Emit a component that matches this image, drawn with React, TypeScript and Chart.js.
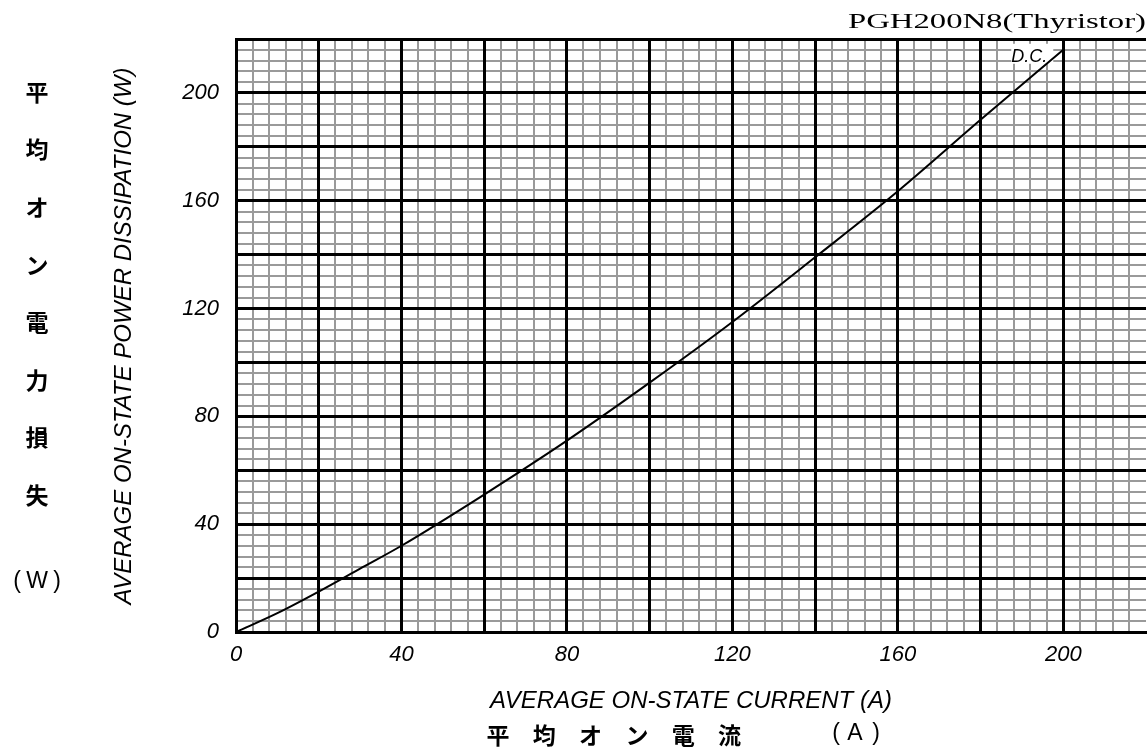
import React, { useEffect, useRef } from "react";
import { Chart, registerables } from "chart.js";

Chart.register(...registerables);

const currentA = [0, 10, 20, 30, 40, 60, 80, 100, 120, 140, 160, 180, 200];
const powerW = [0, 7, 15, 23.5, 32, 51, 71, 92.5, 115, 139, 163.5, 190, 216];
const axisMin = 0;
const axisMax = 220;
const minorStep = 4;
const majorStep = 20;
const labelStep = 40;

const titleText = "PGH200N8(Thyristor)";
const curveLabel = "D.C.";
const xTitleEn = "AVERAGE ON-STATE CURRENT (A)";
const xTitleJa = ["平", "均", "オ", "ン", "電", "流"];
const xTitleJaUnit = ["（", "A", "）"];
const yTitleEn = "AVERAGE ON-STATE POWER DISSIPATION (W)";
const yTitleJa = ["平", "均", "オ", "ン", "電", "力", "損", "失"];
const yTitleJaUnit = ["（", "W", "）"];

const SANS = '"Liberation Sans", Arial, sans-serif';
const CJK = '"Noto Sans CJK JP", sans-serif';

const textPlugin = {
  id: "textPlugin",
  beforeDatasetsDraw(chart: any) {
    const c = chart.ctx;
    const xs = chart.scales.x;
    const ys = chart.scales.y;
    const lastX = currentA[currentA.length - 1];
    const lastY = powerW[powerW.length - 1];
    const px = xs.getPixelForValue(lastX);
    const py = ys.getPixelForValue(lastY);
    c.save();
    c.font = `italic 18px ${SANS}`;
    const w = c.measureText(curveLabel).width;
    c.fillStyle = "#fff";
    c.fillRect(px - w - 16, py - 6, w + 6, 20);
    c.restore();
  },
  afterDraw(chart: any) {
    const c = chart.ctx;
    const xs = chart.scales.x;
    const ys = chart.scales.y;
    const area = chart.chartArea;
    c.save();
    c.fillStyle = "#000";

    // top-right title (wide serif)
    c.font = `22px "Liberation Serif", "Times New Roman", serif`;
    const tw = c.measureText(titleText).width;
    c.save();
    c.translate(1146, 28);
    c.scale(298 / tw, 1);
    c.textAlign = "right";
    c.textBaseline = "alphabetic";
    c.fillText(titleText, 0, 0);
    c.restore();

    // D.C. label
    const lastX = currentA[currentA.length - 1];
    const lastY = powerW[powerW.length - 1];
    const px = xs.getPixelForValue(lastX);
    const py = ys.getPixelForValue(lastY);
    c.font = `italic 18px ${SANS}`;
    c.textAlign = "right";
    c.textBaseline = "alphabetic";
    c.fillText(curveLabel, px - 16, py + 12);

    // x titles
    const cx = (area.left + area.right) / 2;
    c.font = `italic 24px ${SANS}`;
    c.textAlign = "center";
    c.fillText(xTitleEn, cx, 708);
    c.font = `bold 23px ${CJK}`;
    c.textBaseline = "middle";
    xTitleJa.forEach((ch, i) => {
      c.fillText(ch, 498 + i * 46.3, 735);
    });
    c.font = `23px ${SANS}`;
    c.fillText("(", 836, 734);
    c.fillText(xTitleJaUnit[1], 855, 734);
    c.fillText(")", 876, 734);

    // y english title
    c.save();
    c.translate(124, 336);
    c.rotate(-Math.PI / 2);
    c.font = `italic 24px ${SANS}`;
    c.textAlign = "center";
    c.textBaseline = "middle";
    c.fillText(yTitleEn, 0, 0);
    c.restore();

    // y japanese vertical title
    c.font = `bold 23px ${CJK}`;
    c.textAlign = "center";
    c.textBaseline = "middle";
    yTitleJa.forEach((ch, i) => {
      c.fillText(ch, 37, 92 + i * 57.6);
    });
    c.font = `23px ${SANS}`;
    c.fillText("(", 17, 582);
    c.fillText(yTitleJaUnit[1], 37, 582);
    c.fillText(")", 57, 582);

    c.restore();
  },
};

const tickFont = { family: SANS, size: 22, style: "italic" as const };

export default function App() {
  const ref = useRef<HTMLCanvasElement>(null);
  useEffect(() => {
    if (!ref.current) return;
    const chart = new Chart(ref.current, {
      type: "line",
      data: {
        datasets: [
          {
            data: currentA.map((x, i) => ({ x, y: powerW[i] })),
            borderColor: "#000",
            borderWidth: 2,
            pointRadius: 0,
            cubicInterpolationMode: "monotone",
            fill: false,
          },
        ],
      },
      options: {
        animation: false,
        responsive: false,
        devicePixelRatio: 1,
        layout: { padding: { left: 0, top: 39, right: 1, bottom: 0 } },
        plugins: { legend: { display: false }, tooltip: { enabled: false }, title: { display: false } },
        scales: {
          x: {
            type: "linear",
            position: "bottom",
            min: axisMin,
            max: axisMax,
            afterFit: (s: any) => {
              s.height = 116;
              s.paddingRight = 0;
              s.paddingLeft = 0;
            },
            ticks: {
              stepSize: minorStep,
              autoSkip: false,
              maxRotation: 0,
              padding: 10,
              color: "#000",
              font: tickFont,
              callback: (v: any) => (v % labelStep === 0 && v <= 200 ? String(v) : ""),
            },
            grid: {
              z: -2,
              drawTicks: false,
              color: (ctx: any) => (ctx.tick && ctx.tick.value % majorStep === 0 ? "rgba(0,0,0,0)" : "#9a9a9a"),
              lineWidth: 2,
            },
            border: { display: true, color: "#000", width: 3 },
          },
          x2: {
            type: "linear",
            position: "bottom",
            min: axisMin,
            max: axisMax,
            afterFit: (s: any) => {
              s.height = 0;
              s.paddingRight = 0;
              s.paddingLeft = 0;
            },
            ticks: { stepSize: majorStep, display: false },
            grid: {
              z: -1,
              drawTicks: false,
              color: (ctx: any) => (ctx.tick && ctx.tick.value >= axisMax ? "rgba(0,0,0,0)" : "#000"),
              lineWidth: 3,
            },
            border: { display: false },
          },
          y: {
            type: "linear",
            position: "left",
            min: axisMin,
            max: axisMax,
            afterFit: (s: any) => {
              s.width = 236;
              s.paddingTop = 0;
              s.paddingBottom = 0;
            },
            ticks: {
              stepSize: minorStep,
              autoSkip: false,
              padding: 17,
              color: "#000",
              font: tickFont,
              callback: (v: any) => (v % labelStep === 0 && v <= 200 ? String(v) : ""),
            },
            grid: {
              z: -2,
              drawTicks: false,
              color: (ctx: any) => (ctx.tick && ctx.tick.value % majorStep === 0 ? "rgba(0,0,0,0)" : "#9a9a9a"),
              lineWidth: 2,
            },
            border: { display: true, color: "#000", width: 3 },
          },
          y2: {
            type: "linear",
            position: "left",
            min: axisMin,
            max: axisMax,
            afterFit: (s: any) => {
              s.width = 0;
              s.paddingTop = 0;
              s.paddingBottom = 0;
            },
            ticks: { stepSize: majorStep, display: false },
            grid: {
              z: -1,
              drawTicks: false,
              color: "#000",
              lineWidth: 3,
            },
            border: { display: false },
          },
        },
      },
      plugins: [textPlugin],
    } as any);
    return () => chart.destroy();
  }, []);
  return (
    <div style={{ position: "absolute", left: 0, top: 0, width: 1147, height: 748, background: "#fff" }}>
      <canvas ref={ref} width={1147} height={748} style={{ display: "block" }} />
    </div>
  );
}
